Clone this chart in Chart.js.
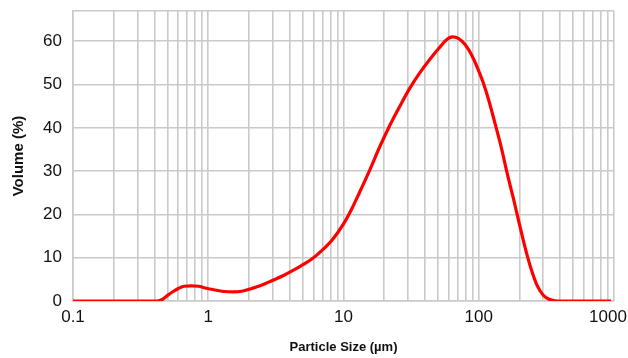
<!DOCTYPE html>
<html>
<head>
<meta charset="utf-8">
<script src="https://cdn.jsdelivr.net/npm/chart.js@4/dist/chart.umd.min.js"></script>
<style>
  html, body { margin: 0; padding: 0; background: #ffffff; }
  #wrap { width: 628px; height: 358px; position: relative; }
</style>
</head>
<body>
<div id="wrap"><canvas id="c" width="628" height="358"></canvas></div>
<script>
// ---- data ----
const particleSizes = [0.1, 0.2, 0.3, 0.42, 0.46, 0.5, 0.55, 0.6, 0.66, 0.75, 0.85, 0.95, 1.1, 1.3, 1.55, 1.8, 2.1, 2.5, 3.0, 3.6, 4.2, 5.0, 5.9, 7.0, 8.3, 10, 11.6, 13.1, 15.6, 18.4, 21.8, 25.9, 30.7, 36.4, 43.1, 51.1, 57.5, 63.7, 70.6, 79.5, 88, 97.5, 108, 119, 132, 147, 162, 180, 199, 220, 244, 270, 299, 331, 367, 406, 600, 950];
const volumes = [0, 0, 0, 0, 0.4, 1.3, 2.2, 2.9, 3.4, 3.5, 3.4, 3.0, 2.6, 2.2, 2.1, 2.3, 2.9, 3.7, 4.8, 5.9, 7.0, 8.4, 9.8, 11.8, 14.2, 17.8, 21.5, 25.0, 30.2, 35.4, 40.3, 44.8, 49.0, 52.6, 55.7, 58.5, 60.3, 61.0, 60.7, 59.2, 57.0, 54.0, 50.4, 46.2, 41.0, 35.4, 29.6, 23.8, 18.0, 12.4, 7.4, 3.6, 1.4, 0.4, 0.05, 0, 0, 0];
const decadeTicks = [0.1, 1, 10, 100, 1000];
const decadeLabels = ['0.1', '1', '10', '100', '1000'];
const minorMultipliers = [1, 2, 3, 4, 5, 6, 7, 8, 9];
const yTicks = [0, 10, 20, 30, 40, 50, 60];
const xTitle = 'Particle Size (µm)';
const yTitle = 'Volume (%)';

const points = particleSizes.map((s, i) => ({ x: s, y: volumes[i] }));

const gridColor = '#cacaca';
const fontFamily = "'Liberation Sans', Arial, sans-serif";

const shiftLastLabel = {
  id: 'shiftLastLabel',
  beforeDraw(chart) {
    const sc = chart.scales.x;
    const items = sc.getLabelItems();
    for (const it of items) {
      if (it.label === '1000') it.options.translation[0] -= 6;
    }
  }
};

new Chart(document.getElementById('c'), {
  type: 'line',
  data: {
    datasets: [{
      data: points,
      borderColor: '#ff0000',
      borderWidth: 3.2,
      pointRadius: 0,
      fill: false,
      tension: 0.4,
      cubicInterpolationMode: 'monotone'
    }]
  },
  options: {
    responsive: false,
    animation: false,
    devicePixelRatio: 1,
    layout: { padding: { top: 11, right: 14, left: 0, bottom: 0 } },
    plugins: { legend: { display: false }, tooltip: { enabled: false } },
    scales: {
      x: {
        type: 'logarithmic',
        min: 0.1,
        max: 1000,
        afterBuildTicks(scale) {
          const t = [];
          for (let d = 0; d < decadeTicks.length - 1; d++) {
            for (const m of minorMultipliers) {
              t.push({ value: +(decadeTicks[d] * m).toPrecision(6) });
            }
          }
          t.push({ value: decadeTicks[decadeTicks.length - 1] });
          scale.ticks = t;
        },
        afterFit(scale) {
          scale.height = 57;
          scale.paddingLeft = 0;
          scale.paddingRight = 0;
        },
        grid: { color: gridColor, lineWidth: 1.6, drawTicks: false },
        border: { color: gridColor, width: 1.6 },
        ticks: {
          autoSkip: false,
          maxRotation: 0,
          minRotation: 0,
          padding: 6,
          color: '#111111',
          font: { family: fontFamily, size: 17 },
          callback(value) {
            const idx = decadeTicks.findIndex(d => Math.abs(d - value) < 1e-9);
            return idx >= 0 ? decadeLabels[idx] : '';
          }
        },
        title: {
          display: true,
          text: xTitle,
          color: '#111111',
          font: { family: fontFamily, size: 13, weight: 'bold' },
          padding: { top: 12, bottom: 3 }
        }
      },
      y: {
        type: 'linear',
        min: 0,
        max: 67,
        afterBuildTicks(scale) {
          scale.ticks = yTicks.map(v => ({ value: v })).concat([{ value: 67 }]);
        },
        afterFit(scale) {
          scale.width = 73;
          scale.paddingTop = 0;
          scale.paddingBottom = 0;
        },
        grid: { color: gridColor, lineWidth: 1.6, drawTicks: false },
        border: { color: gridColor, width: 1.6 },
        ticks: {
          padding: 11,
          color: '#111111',
          font: { family: fontFamily, size: 17 },
          callback(value) {
            return yTicks.includes(value) ? String(value) : '';
          }
        },
        title: {
          display: true,
          text: yTitle,
          color: '#111111',
          font: { family: fontFamily, size: 15, weight: 'bold' },
          padding: { top: 10, bottom: 0 }
        }
      }
    }
  },
  plugins: [shiftLastLabel]
});
</script>
</body>
</html>
